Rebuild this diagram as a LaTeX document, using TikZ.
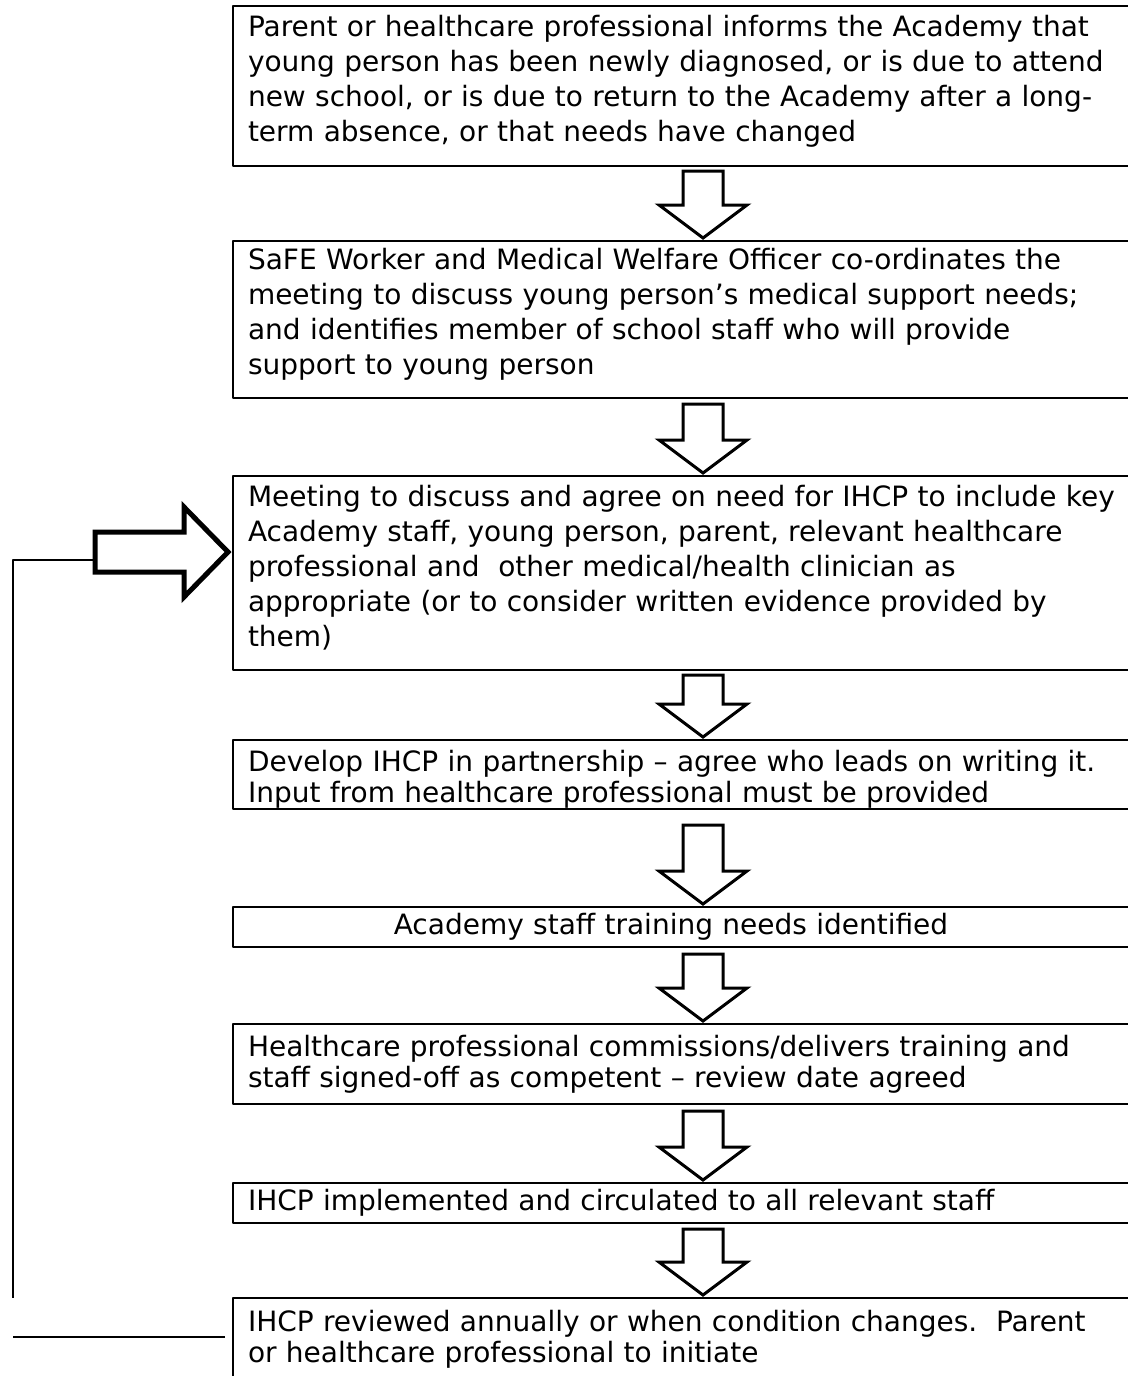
\documentclass[tikz,border=0pt]{standalone}
\usepackage{fontspec}
\setmainfont{DejaVu Sans}
\usetikzlibrary{calc}

\begin{document}
\begin{tikzpicture}[line cap=round,line join=round,
  x=0.5pt,y=-0.5pt,   % one unit = one pixel of the page, y downwards
  stage/.style={draw,line width=1pt,anchor=north west,align=left,
    minimum width=454pt,text width=439pt,inner xsep=7pt,inner ysep=0pt,
    font=\fontsize{14}{17.5}\selectfont},
  loose/.style={execute at end node={\endgraf\vspace*{5pt}}},
  tight/.style={font=\fontsize{14}{15.5}\selectfont},
  blockarr/.style={draw,line width=1.5pt,line cap=butt,line join=miter,fill=white},
  sidearr/.style={draw,line width=2.5pt,line cap=butt,line join=miter,fill=white},
  loopline/.style={line width=1pt,line cap=butt}
  ]
  \useasboundingbox (0,0) rectangle (1128,1376);
  \clip (0,0) rectangle (1128,1376);
  \def\ax{703}  % axis of the down arrows
  \def\sw{20}   % shaft half width
  \def\hw{44}   % head half width
  \def\hl{33}   % head length
  \coordinate (axis) at (\ax,0);
  % down arrow from box #2 to box #3, #1 = gap under box #2
  \def\flowarrow#1#2#3{%
    \coordinate (s) at ($(axis |- #2.south)+(0,#1)$);
    \coordinate (t) at ($(axis |- #3.north)+(0,-2)$);
    \draw[blockarr] ($(s)+(-\sw,0)$) -- ($(s)+(\sw,0)$) -- ($(t)+(\sw,-\hl)$)
      -- ($(t)+(\hw,-\hl)$) -- (t) -- ($(t)+(-\hw,-\hl)$) -- ($(t)+(-\sw,-\hl)$) -- cycle;}
  % BOXES
  \node[stage,loose,minimum height=80pt] (b1) at (232,5)
    {Parent or healthcare professional informs the Academy that\\
     young person has been newly diagnosed, or is due to attend\\
     new school, or is due to return to the Academy after a long-\\
     term absence, or that needs have changed};
  \node[stage,loose,minimum height=78.5pt] (b2) at (232,240)
    {SaFE Worker and Medical Welfare Officer co-ordinates the\\
     meeting to discuss young person’s medical support needs;\\
     and identifies member of school staff who will provide\\
     support to young person};
  \node[stage,loose,minimum height=97pt] (b3) at (232,475)
    {Meeting to discuss and agree on need for IHCP to include key\\
     Academy staff, young person, parent, relevant healthcare\\
     professional and\ \ other medical/health clinician as\\
     appropriate (or to consider written evidence provided by\\
     them)};
  \node[stage,tight,text height=15pt,minimum height=34.5pt] (b4) at (232,739)
    {Develop IHCP in partnership – agree who leads on writing it.\\
     Input from healthcare professional must be provided};
  \node[stage,tight,align=center,minimum height=20pt] (b5) at (232,906)
    {\hspace*{-16pt}Academy staff training needs identified};
  \node[stage,tight,minimum height=40pt] (b6) at (232,1023)
    {Healthcare professional commissions/delivers training and\\
     staff signed-off as competent – review date agreed};
  \node[stage,tight,minimum height=20pt] (b7) at (232,1182)
    {IHCP implemented and circulated to all relevant staff};
  \node[stage,tight,minimum height=41.5pt] (b8) at (232,1297)
    {IHCP reviewed annually or when condition changes.\ \ Parent\\
     or healthcare professional to initiate};
  % ARROWS between the boxes
  \flowarrow{4}{b1}{b2}
  \flowarrow{5}{b2}{b3}
  \flowarrow{4}{b3}{b4}
  \flowarrow{15}{b4}{b5}
  \flowarrow{6}{b5}{b6}
  \flowarrow{6}{b6}{b7}
  \flowarrow{5}{b7}{b8}
  % review loop back into the meeting
  \coordinate (tip)  at ($(b3.north west)+(-4,77)$);
  \coordinate (ret)  at ($(tip)+(-133,8)$);
  \coordinate (rise) at (13,1298);
  \coordinate (back) at ($(b8.north west)+(-7,40)$);
  \draw[sidearr] ($(tip)+(-133,-20)$) -- ($(tip)+(-44,-20)$) -- ($(tip)+(-44,-45)$) -- (tip)
    -- ($(tip)+(-44,45)$) -- ($(tip)+(-44,20)$) -- ($(tip)+(-133,20)$) -- cycle;
  \draw[loopline] (ret) -| (rise);
  \draw[loopline] (back) -- (back -| rise);
\end{tikzpicture}
\end{document}
